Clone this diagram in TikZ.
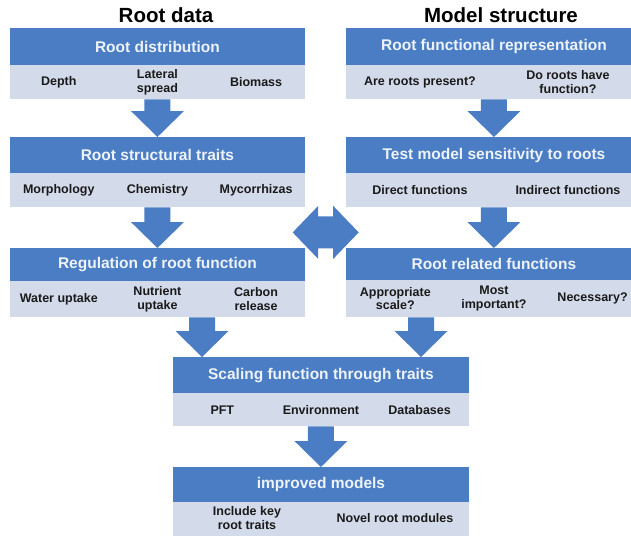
\documentclass[tikz,border=0pt]{standalone}
\usepackage{fontspec}
\setmainfont{Liberation Sans}
\usetikzlibrary{calc}
\definecolor{hdrblue}{HTML}{4A7DC4}
\definecolor{subfill}{HTML}{D3DAEA}
\definecolor{hdrtxt}{HTML}{EEF3FA}
\definecolor{itemtxt}{HTML}{1A1A1A}
\definecolor{arrowc}{HTML}{4A7DC4}
\newcommand\fatarrow[3]{%
  \fill[arrowc] let \p1=(#1.south -| #3), \p2=(#2.north -| #3) in
    (\x1-13pt,\y1) -- (\x1+13pt,\y1) -- (\x1+13pt,\y2+26pt) -- (\x1+26.5pt,\y2+26pt)
    -- (\x2,\y2) -- (\x1-26.5pt,\y2+26pt) -- (\x1-13pt,\y2+26pt) -- cycle;}
\begin{document}
\begin{tikzpicture}[x=1pt,y=-1pt,
  hdr/.style={fill=hdrblue, text=hdrtxt, font=\bfseries\fontsize{15.5}{18}\selectfont,
    inner sep=0pt, anchor=north west, minimum width=295.5pt},
  subband/.style={fill=subfill, inner sep=0pt, anchor=north west, minimum width=295.5pt},
  item/.style={font=\bfseries\fontsize{12.5}{13.5}\selectfont, text=itemtxt, align=center, inner sep=0pt},
  ttl/.style={font=\bfseries\fontsize{20.5}{24}\selectfont, text=black, inner sep=0pt}]
\useasboundingbox (0,0) rectangle (631,535);
\fill[white] (0,0) rectangle (631,535);
\begin{scope}
\clip (0,0) rectangle (631,535);
% titles
\node[ttl] (t1) at (166,15) {Root data};
\node[ttl] (t2) at (501,15) {Model structure};
% left column
\node[hdr, minimum height=37pt] (h1) at (9.5,28) {Root distribution};
\node[subband, minimum height=34pt] (s1) at (9.5,65) {};
\node[hdr, minimum height=36pt] (h2) at (9.5,137) {Root structural traits};
\node[subband, minimum height=34pt] (s2) at (9.5,173) {};
\node[hdr, minimum height=33pt] (h3) at (9.5,248) {Regulation of root function};
\node[subband, minimum height=36pt] (s3) at (9.5,281) {};
% right column
\node[hdr, minimum height=37pt] (r1) at (346,28) {Root functional representation};
\node[subband, minimum height=34pt] (rs1) at (346,65) {};
\node[hdr, minimum height=36pt] (r2) at (346,137) {Test model sensitivity to roots};
\node[subband, minimum height=34pt] (rs2) at (346,173) {};
\node[hdr, minimum height=32pt] (r3) at (346,248) {Root related functions};
\node[subband, minimum height=37pt] (rs3) at (346,280) {};
% bottom
\node[hdr, minimum height=36pt] (g) at (173,357) {Scaling function through traits};
\node[subband, minimum height=33pt] (gs) at (173,393) {};
\node[hdr, minimum height=35pt] (m) at (173,467) {improved models};
\node[subband, minimum height=36pt] (ms) at (173,502) {};
% items
\node[item] (i11) at ($(s1.west)!1/6!(s1.east)$) {Depth};
\node[item] (i12) at ($(s1.west)!3/6!(s1.east)$) {Lateral\\spread};
\node[item] (i13) at ($(s1.west)!5/6!(s1.east)$) {Biomass};
\node[item] (i21) at ($(s2.west)!1/6!(s2.east)$) {Morphology};
\node[item] (i22) at ($(s2.west)!3/6!(s2.east)$) {Chemistry};
\node[item] (i23) at ($(s2.west)!5/6!(s2.east)$) {Mycorrhizas};
\node[item] (i31) at ($(s3.west)!1/6!(s3.east)$) {Water uptake};
\node[item] (i32) at ($(s3.west)!3/6!(s3.east)$) {Nutrient\\uptake};
\node[item] (i33) at ($(s3.west)!5/6!(s3.east)$) {Carbon\\release};
\node[item] (j11) at ($(rs1.west)!1/4!(rs1.east)$) {Are roots present?};
\node[item] (j12) at ($(rs1.west)!3/4!(rs1.east)$) {Do roots have\\function?};
\node[item] (j21) at ($(rs2.west)!1/4!(rs2.east)$) {Direct functions};
\node[item] (j22) at ($(rs2.west)!3/4!(rs2.east)$) {Indirect functions};
\node[item] (j31) at ($(rs3.west)!1/6!(rs3.east)$) {Appropriate\\scale?};
\node[item] (j32) at ($(rs3.west)!3/6!(rs3.east)$) {Most\\important?};
\node[item] (j33) at ($(rs3.west)!5/6!(rs3.east)$) {Necessary?};
\node[item] (k1) at ($(gs.west)!1/6!(gs.east)$) {PFT};
\node[item] (k2) at ($(gs.west)!3/6!(gs.east)$) {Environment};
\node[item] (k3) at ($(gs.west)!5/6!(gs.east)$) {Databases};
\node[item] (n1) at ($(ms.west)!1/4!(ms.east)+(0,-2)$) {Include key\\root traits};
\node[item] (n2) at ($(ms.west)!3/4!(ms.east)+(0,-2)$) {Novel root modules};
% arrows
\coordinate (xa) at (202,0);
\coordinate (xb) at (421,0);
\fatarrow{s1}{h2}{h1.center}
\fatarrow{s2}{h3}{h1.center}
\fatarrow{rs1}{r2}{r1.center}
\fatarrow{rs2}{r3}{r1.center}
\fatarrow{s3}{g}{xa}
\fatarrow{rs3}{g}{xb}
\fatarrow{gs}{m}{g.center}
% double arrow
\coordinate (dbl) at ($(s2.south east)!0.5!(rs2.south west)+(0,25)$);
\fill[arrowc] (dbl) ++(-33,0) -- ++(25.5,-26.5) -- ++(0,10.5) -- ++(15,0) -- ++(0,-10.5)
  -- ++(25.5,26.5) -- ++(-25.5,26.5) -- ++(0,-10.5) -- ++(-15,0) -- ++(0,10.5) -- cycle;
\end{scope}
\end{tikzpicture}
\end{document}
